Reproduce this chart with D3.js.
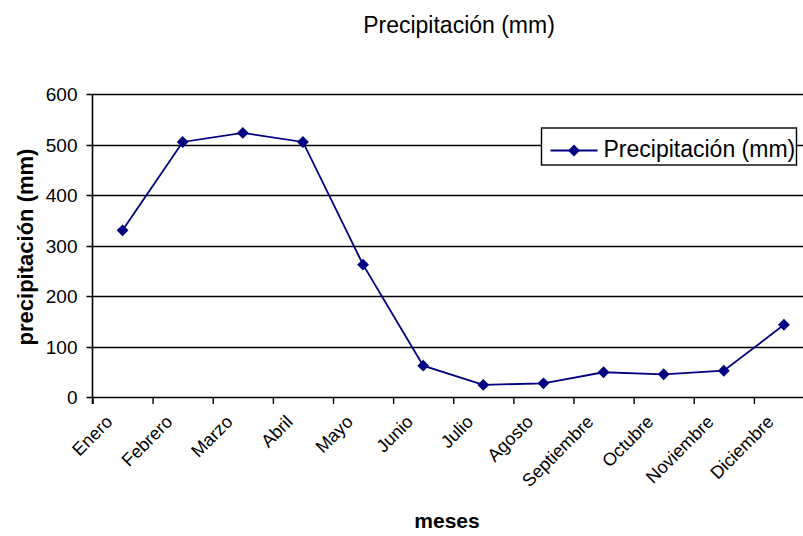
<!DOCTYPE html>
<html lang="es">
  <head>
    <meta charset="UTF-8" />
    <title>Precipitación (mm)</title>
    <script src="https://d3js.org/d3.v7.min.js"></script>
    <style>
      body { margin: 0; background: #fff; }
      svg { display: block; font-family: "Liberation Sans", Arial, sans-serif; }
    </style>
  </head>
  <body>
    <svg width="803" height="536"></svg>
    <script>
      // data
      const months = ["Enero", "Febrero", "Marzo", "Abril", "Mayo", "Junio",
        "Julio", "Agosto", "Septiembre", "Octubre", "Noviembre", "Diciembre"];
      const rain = [330, 505, 523, 505, 262, 62, 24, 27, 49, 45, 52, 143];
      const yTicks = [0, 100, 200, 300, 400, 500, 600];
      const seriesName = "Precipitación (mm)";

      const svg = d3.select("svg");
      const plotL = 92.5, plotT = 94, plotB = 397, plotR = 814;

      const x = d3.scaleBand().domain(months).range([plotL, plotR]);
      const y = d3.scaleLinear().domain([0, 600]).range([plotB, plotT]);

      // horizontal gridlines
      svg.append("g")
        .selectAll("line")
        .data(yTicks)
        .join("line")
        .attr("x1", plotL - 6).attr("x2", plotR)
        .attr("y1", d => Math.round(y(d)) + 0.5).attr("y2", d => Math.round(y(d)) + 0.5)
        .attr("stroke", "#000").attr("stroke-width", 1.4);

      // y tick labels
      svg.append("g")
        .selectAll("text")
        .data(yTicks)
        .join("text")
        .attr("x", plotL - 15).attr("y", d => y(d) + 7)
        .attr("text-anchor", "end").attr("font-size", 19)
        .text(d => d);

      // y axis line
      svg.append("line")
        .attr("x1", plotL).attr("x2", plotL).attr("y1", plotT).attr("y2", plotB + 7)
        .attr("stroke", "#000").attr("stroke-width", 1.6);

      // x ticks at category boundaries
      svg.append("g")
        .selectAll("line")
        .data(months)
        .join("line")
        .attr("x1", d => x(d) + 0.5).attr("x2", d => x(d) + 0.5)
        .attr("y1", plotB).attr("y2", plotB + 7)
        .attr("stroke", "#000").attr("stroke-width", 1.4);

      // x tick labels
      svg.append("g")
        .selectAll("text")
        .data(months)
        .join("text")
        .attr("font-size", 18)
        .attr("text-anchor", "end")
        .attr("transform", d => `translate(${x(d) + x.bandwidth() / 2 - 9},${plotB + 26}) rotate(-45)`)
        .text(d => d);

      // line
      const line = d3.line()
        .x((d, i) => x(months[i]) + x.bandwidth() / 2)
        .y(d => y(d));
      svg.append("path")
        .datum(rain)
        .attr("d", line)
        .attr("fill", "none")
        .attr("stroke", "#000080")
        .attr("stroke-width", 1.8);

      const diamond = d3.symbol().type(d3.symbolSquare).size(70);
      svg.append("g")
        .selectAll("path")
        .data(rain)
        .join("path")
        .attr("d", diamond)
        .attr("transform", (d, i) => `translate(${x(months[i]) + x.bandwidth() / 2},${y(d)}) rotate(45)`)
        .attr("fill", "#000080");

      // titles
      svg.append("text")
        .attr("x", 459).attr("y", 33)
        .attr("text-anchor", "middle").attr("font-size", 23)
        .text(seriesName);

      svg.append("text")
        .attr("transform", `translate(33,247) rotate(-90)`)
        .attr("text-anchor", "middle").attr("font-size", 22).attr("font-weight", "bold")
        .text("precipitación (mm)");

      svg.append("text")
        .attr("x", 447).attr("y", 528)
        .attr("text-anchor", "middle").attr("font-size", 21).attr("font-weight", "bold")
        .text("meses");

      // legend
      const lg = svg.append("g").attr("transform", "translate(541.5,128)");
      lg.append("rect")
        .attr("width", 255).attr("height", 37)
        .attr("fill", "#fff").attr("stroke", "#000").attr("stroke-width", 1.4);
      lg.append("line")
        .attr("x1", 9).attr("x2", 56).attr("y1", 22.5).attr("y2", 22.5)
        .attr("stroke", "#000080").attr("stroke-width", 1.8);
      lg.append("path")
        .attr("d", diamond)
        .attr("transform", "translate(32.5,22.5) rotate(45)")
        .attr("fill", "#000080");
      lg.append("text")
        .attr("x", 62).attr("y", 29).attr("font-size", 23)
        .text(seriesName);
    </script>
  </body>
</html>
